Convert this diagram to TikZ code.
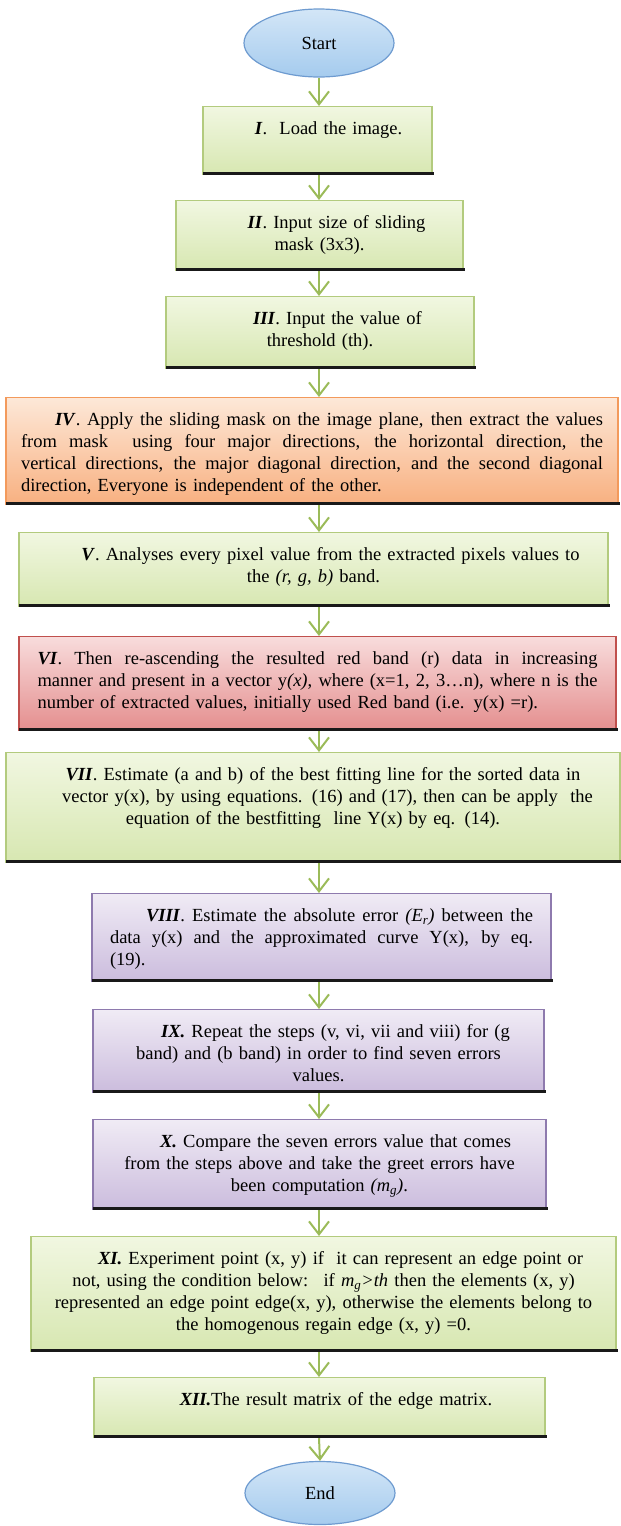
\documentclass[tikz,border=0pt]{standalone}
\usepackage{fontspec}
\setmainfont{Liberation Serif}
\usetikzlibrary{shapes.geometric,arrows.meta}

\definecolor{greentop}{HTML}{F1F7E1}
\definecolor{greenbot}{HTML}{D7E7B1}
\definecolor{greenline}{HTML}{B3CB7E}
\definecolor{orangetop}{HTML}{FDE8D8}
\definecolor{orangebot}{HTML}{F8B080}
\definecolor{orangeline}{HTML}{F39A5C}
\definecolor{redtop}{HTML}{F8DCDC}
\definecolor{redbot}{HTML}{E48E8E}
\definecolor{redline}{HTML}{C0504D}
\definecolor{purpletop}{HTML}{F0EBF5}
\definecolor{purplebot}{HTML}{CBBCDD}
\definecolor{purpleline}{HTML}{8E7AAE}
\definecolor{bluetop}{HTML}{D3E6F7}
\definecolor{bluebot}{HTML}{A5CBEE}
\definecolor{blueline}{HTML}{6E9BD0}
\definecolor{arrowgreen}{HTML}{9BBB59}

\newcommand{\steptext}{\fontsize{18.5}{22}\selectfont}
\newcommand{\stepno}[1]{\textbf{\textit{#1}}}
\newcommand{\fillline}[2]{\leavevmode\hbox to #1{\spaceskip=0.25em plus 1em minus 0.05em\relax #2}}

\tikzset{
    stepbox/.style={rectangle, draw, line width=1.2pt, inner sep=0pt,
        text height=28pt, font=\steptext, anchor=north},
    greenbox/.style={stepbox, draw=greenline, top color=greentop, bottom color=greenbot, align=center},
    orangebox/.style={stepbox, draw=orangeline, top color=orangetop, bottom color=orangebot, align=left},
    redbox/.style={stepbox, draw=redline, top color=redtop, bottom color=redbot, align=left},
    purplebox/.style={stepbox, draw=purpleline, top color=purpletop, bottom color=purplebot, align=center},
    terminal/.style={ellipse, draw=blueline, line width=1.2pt, top color=bluetop, bottom color=bluebot,
        minimum width=150pt, font=\steptext},
    flow/.style={draw=arrowgreen, line width=2pt, -{Straight Barb[length=13pt,width=20pt]}},
    shadowline/.style={line width=3pt, black!90}
}

\begin{document}
\begin{tikzpicture}[x=1pt,y=-1pt]
    \useasboundingbox (0,0) rectangle (621,1526);
    \coordinate (axis) at (319,0);

    % terminals
    \node[terminal, minimum height=68pt] (start) at (319,43) {Start};
    \node[terminal, minimum height=63pt] (end) at (320,1493) {End};

    % steps
    \node[greenbox, minimum width=229pt, text width=219pt, text depth=40pt] (s1) at (317.5,106)
        {\hspace*{22pt}\stepno{I}.\ \ Load the image.};
    \node[greenbox, minimum width=287pt, text width=277pt, text depth=42pt] (s2) at (319.5,200)
        {\hspace*{34pt}\stepno{II}. Input size of sliding\\ mask (3x3).};
    \node[greenbox, minimum width=308pt, text width=298pt, text depth=44pt] (s3) at (320,296)
        {\hspace*{35pt}\stepno{III}. Input the value of\\ threshold (th).};
    \node[orangebox, minimum width=612pt, text width=582pt, text depth=79pt] (s4) at (312,397)
        {\fillline{582pt}{\hspace*{34pt}\stepno{IV}. Apply the sliding mask on the image plane, then extract the values}\\
         \fillline{582pt}{from mask \ using four major directions, the horizontal direction, the}\\
         \fillline{582pt}{vertical directions, the major diagonal direction, and the second diagonal}\\
         direction, Everyone is independent of the other.};
    \node[greenbox, minimum width=589pt, text width=579pt, text depth=46pt] (s5) at (313.5,532)
        {\hspace*{34pt}\stepno{V}. Analyses every pixel value from the extracted pixels values to\\
         the \textit{(r, g, b)} band.};
    \node[redbox, minimum width=597pt, text width=560pt, text depth=66pt] (s6) at (317.5,636)
        {\fillline{560pt}{\stepno{VI}. Then re-ascending the resulted red band (r) data in increasing}\\
         \fillline{560pt}{manner and present in a vector y\textit{(x)}, where (x=1, 2, 3…n), where n is the}\\
         number of extracted values, initially used Red band (i.e. y(x) =r).};
    \node[greenbox, minimum width=614pt, text width=604pt, text depth=82pt] (s7) at (313,752)
        {\hspace*{20pt}\stepno{VII}. Estimate (a and b) of the best fitting line for the sorted data in\\
         \hspace*{29pt}vector y(x), by using equations. (16) and (17), then can be apply \ the\\
         equation of the bestfitting \ line Y(x) by eq. (14).\hspace*{16pt}};
    \node[purplebox, align=left, minimum width=459pt, text width=423pt, text depth=60pt] (s8) at (321.5,893)
        {\fillline{423pt}{\hspace*{36pt}\stepno{VIII}. Estimate the absolute error \textit{(E\textsubscript{r})} between the}\\
         \fillline{423pt}{data y(x) and the approximated curve Y(x), by eq.}\\
         (19).};
    \node[purplebox, minimum width=451pt, text width=441pt, text depth=55pt] (s9) at (318.5,1009)
        {\hspace*{34pt}\stepno{IX.} Repeat the steps (v, vi, vii and viii) for (g\\
         band) and (b band) in order to find seven errors\\ values.};
    \node[purplebox, minimum width=453pt, text width=443pt, text depth=62pt] (s10) at (319.5,1119)
        {\hspace*{32pt}\stepno{X.} Compare the seven errors value that comes\\
         from the steps above and take the greet errors have\\
         been computation \textit{(m\textsubscript{g})}.};
    \node[greenbox, minimum width=585pt, text width=575pt, text depth=87pt] (s11) at (323.5,1236)
        {\hspace*{34pt}\stepno{XI.} Experiment point (x, y) if \ it can represent an edge point or\\
         not, using the condition below: \ if \textit{m\textsubscript{g}>th} then the elements (x, y)\\
         represented an edge point edge(x, y), otherwise the elements belong to\\
         the homogenous regain edge (x, y) =0.};
    \node[greenbox, minimum width=451pt, text width=441pt, text depth=32pt] (s12) at (319.5,1377)
        {\hspace*{33pt}\stepno{XII.}The result matrix of the edge matrix.};

    % connectors
    \draw[flow] (start.south) -- (s1.north -| axis);
    \foreach \a/\b in {1/2,2/3,3/4,4/5,5/6,6/7,7/8,8/9,9/10,10/11,11/12}
        \draw[flow] (s\a.south -| axis) -- (s\b.north -| axis);
    \draw[flow] (s12.south -| axis) -- (end.north);

    % dark bottom edges
    \foreach \n in {1,...,12}
        \draw[shadowline] ([xshift=1pt,yshift=1.5pt]s\n.south west) -- ([xshift=1pt,yshift=1.5pt]s\n.south east);
\end{tikzpicture}
\end{document}
